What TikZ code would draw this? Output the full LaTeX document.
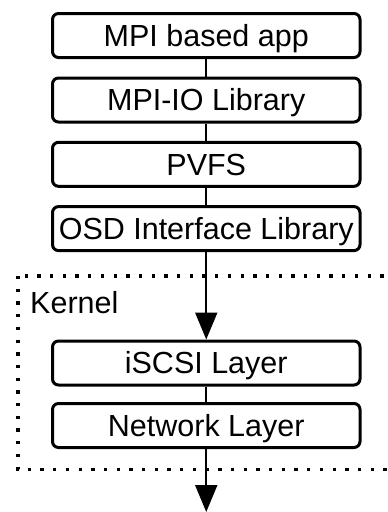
\documentclass[tikz,border=0pt]{standalone}
\usepackage{fontspec}
\setmainfont{Liberation Sans}
\usetikzlibrary{arrows.meta}
\begin{document}
\begin{tikzpicture}[x=1pt,y=-1pt,
  layer/.style={draw, line width=3pt, rounded corners=6pt, minimum width=307.5pt,
    minimum height=44pt, inner sep=0pt, text height=21.8pt, text depth=0pt,
    font=\fontsize{30.5}{36}\selectfont},
  link/.style={line width=2pt},
  flow/.style={line width=2pt, -{Triangle[width=22pt,length=27pt]}}]
\useasboundingbox (0,0) rectangle (388,512);
\clip (0,0) rectangle (388,512);
\draw[line width=3.3pt, dash pattern=on 3.3pt off 9.4pt] (18,276) rectangle (420,469.5);
\node[anchor=base west, inner sep=0pt, font=\fontsize{30.5}{36}\selectfont] (kernel) at (30,313) {Kernel};
\node[layer] (app) at (206.25,35.5) {MPI based app};
\node[layer] (mpiio) at (206.25,100) {MPI-IO Library};
\node[layer] (pvfs) at (206.25,164.3) {PVFS};
\node[layer] (osd) at (206.25,228.6) {OSD Interface Library};
\node[layer] (iscsi) at (206.25,363) {iSCSI Layer};
\node[layer] (net) at (206.25,425.5) {Network Layer};
\coordinate (out) at (206.25,512);
\draw[link] (app) -- (mpiio);
\draw[link] (mpiio) -- (pvfs);
\draw[link] (pvfs) -- (osd);
\draw[flow] (osd) -- (iscsi);
\draw[link] (iscsi) -- (net);
\draw[flow] (net) -- (out);
\end{tikzpicture}
\end{document}
